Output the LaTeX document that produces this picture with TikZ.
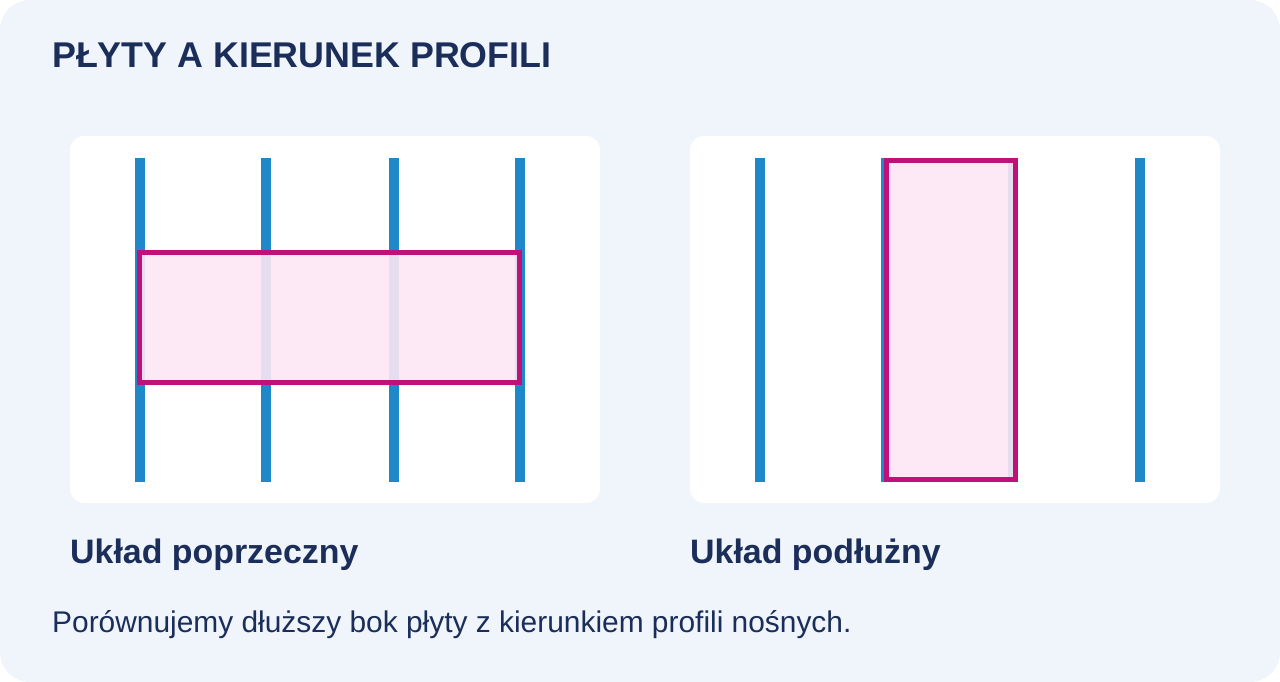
\documentclass[tikz,border=0pt]{standalone}
\usepackage{fontspec}
\setmainfont{Liberation Sans}
\definecolor{bgpanel}{HTML}{F0F4FB}
\definecolor{navy}{HTML}{1B2E5A}
\definecolor{profblue}{HTML}{1E88C8}
\definecolor{plate}{HTML}{C0117A}
\definecolor{platefill}{HTML}{FCE7F4}
\tikzset{
  card/.style={fill=white, draw=none, rounded corners=14pt},
  profile/.style={draw=profblue, line width=10pt},
  boardfill/.style={fill=platefill, fill opacity=0.9},
  board/.style={draw=plate, line width=5pt},
  title/.style={anchor=base west, text=navy, font=\bfseries\fontsize{35.8}{40}\selectfont, inner sep=0pt},
  label/.style={anchor=base west, text=navy, font=\bfseries\fontsize{33.9}{38}\selectfont, inner sep=0pt},
  note/.style={anchor=base west, text=navy, font=\fontsize{29.9}{34}\selectfont, inner sep=0pt},
}
\begin{document}
\begin{tikzpicture}[x=1pt,y=-1pt]
\useasboundingbox (0,0) rectangle (1280,682);
\fill[white] (0,0) rectangle (1280,682);
\fill[bgpanel, rounded corners=30pt] (0,0) rectangle (1280,682);
\node[title] (t) at (52,68) {PŁYTY A KIERUNEK PROFILI};
% left card
\path[card] (70,136) rectangle (600,503);
\coordinate (l1a) at (140,158); \coordinate (l1b) at (140,482);
\coordinate (l2a) at (266,158); \coordinate (l2b) at (266,482);
\coordinate (l3a) at (394,158); \coordinate (l3b) at (394,482);
\coordinate (l4a) at (520,158); \coordinate (l4b) at (520,482);
\foreach \i in {1,2,3,4} \draw[profile] (l\i a) -- (l\i b);
\fill[boardfill] (139.5,252.5) rectangle (519.5,382.5);
\draw[board] (139.5,252.5) rectangle (519.5,382.5);
% right card
\path[card] (690,136) rectangle (1220,503);
\coordinate (r1a) at (760,158); \coordinate (r1b) at (760,482);
\coordinate (r2a) at (886,158); \coordinate (r2b) at (886,482);
\coordinate (r3a) at (1013,158); \coordinate (r3b) at (1013,482);
\coordinate (r4a) at (1140,158); \coordinate (r4b) at (1140,482);
\foreach \i in {1,2,3,4} \draw[profile] (r\i a) -- (r\i b);
\fill[boardfill] (886.5,160.5) rectangle (1015.5,479.5);
\draw[board] (886.5,160.5) rectangle (1015.5,479.5);
% labels
\node[label] (lp) at (70,563) {Układ poprzeczny};
\node[label] (lq) at (690,563) {Układ podłużny};
\node[note] (n) at (52,632) {Porównujemy dłuższy bok płyty z kierunkiem profili nośnych.};
\end{tikzpicture}
\end{document}
